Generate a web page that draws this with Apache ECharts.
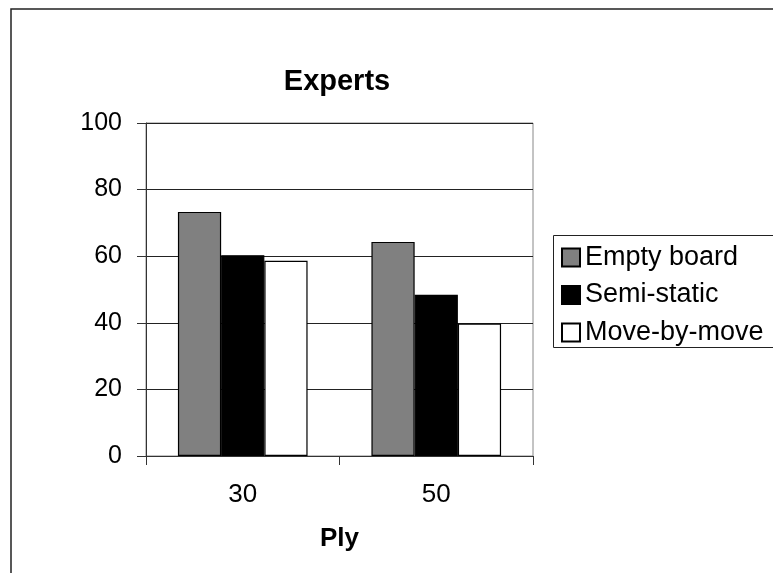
<!DOCTYPE html>
<html>
<head>
<meta charset="utf-8">
<script src="https://cdn.jsdelivr.net/npm/echarts@6/dist/echarts.min.js"></script>
<style>
html,body{margin:0;padding:0;background:#fff;}
#c{width:773px;height:573px;}
</style>
</head>
<body>
<div id="c"></div>
<script>
const categories = ['30', '50'];
const seriesNames = ['Empty board', 'Semi-static', 'Move-by-move'];
const emptyBoard = [73.3, 64.3];
const semiStatic = [60.3, 48.4];
const moveByMove = [58.6, 39.8];
const yTicks = { min: 0, max: 100, interval: 20 };
const colors = ['#808080', '#000000', '#ffffff'];

const FONT = 'Liberation Sans, Arial, sans-serif';
const chart = echarts.init(document.getElementById('c'), null, { renderer: 'canvas' });
const values = [emptyBoard, semiStatic, moveByMove];

chart.setOption({
  animation: false,
  backgroundColor: '#fff',
  grid: { left: 146, right: 240, top: 123, bottom: 117, show: true, borderColor: '#888', borderWidth: 1, backgroundColor: 'transparent' },
  graphic: [
    { type: 'rect', shape: { x: 11, y: 9, width: 900, height: 700 }, style: { fill: 'none', stroke: '#222', lineWidth: 1.5 }, silent: true, z: 100 },
    { type: 'rect', shape: { x: 553.5, y: 235.5, width: 300, height: 112 }, style: { fill: 'none', stroke: '#222', lineWidth: 1 }, silent: true, z: 100 },
    { type: 'text', x: 337, y: 82, style: { text: 'Experts', font: 'bold 29px ' + FONT, fill: '#000', textAlign: 'center', textVerticalAlign: 'middle' }, z: 100 }
  ],
  legend: {
    orient: 'vertical', left: 561, top: 244, padding: 0,
    itemWidth: 18, itemHeight: 18, itemGap: 10.5,
    icon: 'rect',
    textStyle: { fontFamily: FONT, fontSize: 27, color: '#000' },
    data: seriesNames
  },
  xAxis: {
    type: 'category', data: categories,
    name: 'Ply', nameLocation: 'middle', nameGap: 70,
    nameTextStyle: { fontFamily: FONT, fontSize: 26, fontWeight: 'bold', color: '#000' },
    axisLine: { lineStyle: { color: '#333', width: 1 } },
    axisTick: { show: true, length: 9, lineStyle: { color: '#333' } },
    axisLabel: { fontFamily: FONT, fontSize: 26, color: '#000', margin: 26 },
    splitLine: { show: false }
  },
  yAxis: {
    type: 'value', min: yTicks.min, max: yTicks.max, interval: yTicks.interval,
    axisLine: { show: true, lineStyle: { color: '#333', width: 1 } },
    axisTick: { show: true, length: 9, lineStyle: { color: '#333' } },
    axisLabel: { fontFamily: FONT, fontSize: 25, color: '#000', margin: 24 },
    splitLine: { show: true, lineStyle: { color: '#222', width: 1 } }
  },
  series: seriesNames.map((n, i) => ({
    name: n, type: 'bar', data: values[i],
    barGap: '0%', barCategoryGap: '33%',
    itemStyle: { color: colors[i], borderColor: '#000', borderWidth: 1.2 }
  }))
});
</script>
</body>
</html>
